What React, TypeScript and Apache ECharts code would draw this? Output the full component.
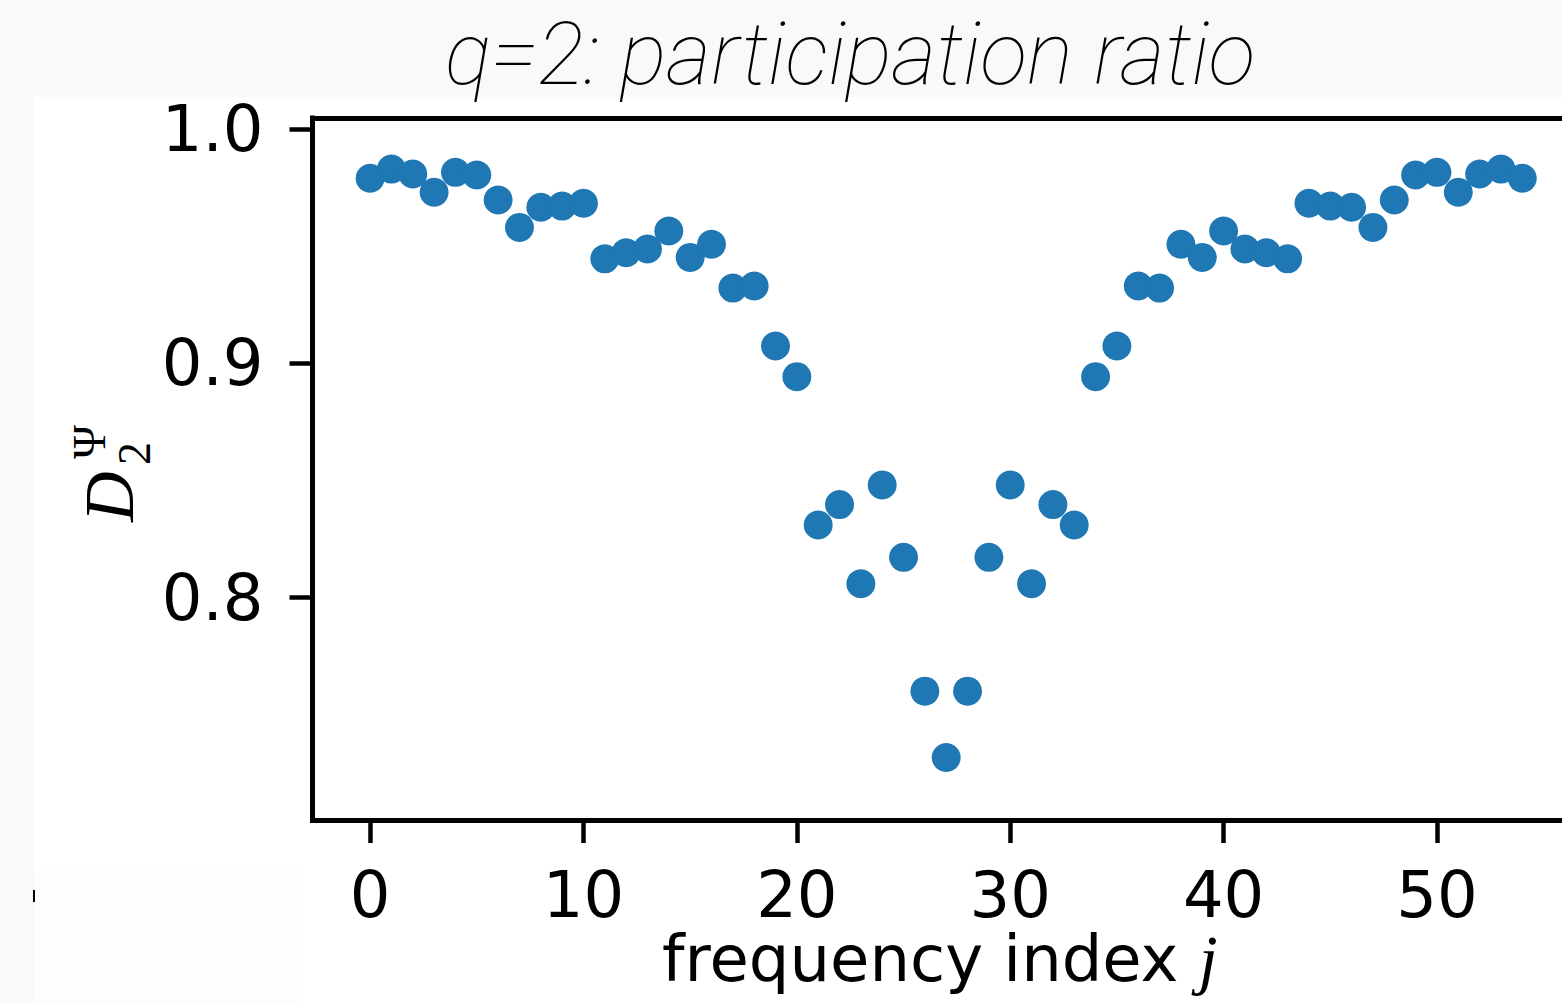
import React, { useEffect, useRef } from "react";
import * as echarts from "echarts";

const frequencyIndex = [
  0, 1, 2, 3, 4, 5, 6, 7, 8, 9, 10, 11, 12, 13, 14, 15, 16, 17, 18, 19, 20, 21, 22, 23, 24, 25, 26, 27,
  28, 29, 30, 31, 32, 33, 34, 35, 36, 37, 38, 39, 40, 41, 42, 43, 44, 45, 46, 47, 48, 49, 50, 51, 52, 53, 54,
];
const d2Values = [
  0.979, 0.9829, 0.9808, 0.973, 0.9815, 0.9804, 0.9697, 0.958, 0.9666, 0.9671, 0.9683, 0.9446, 0.9472,
  0.9488, 0.9565, 0.9452, 0.9508, 0.9321, 0.933, 0.9074, 0.8943, 0.831, 0.8397, 0.8059, 0.8481, 0.8172,
  0.7601, 0.7318, 0.7601, 0.8172, 0.8481, 0.8059, 0.8397, 0.831, 0.8943, 0.9074, 0.933, 0.9321, 0.9508,
  0.9452, 0.9565, 0.9488, 0.9472, 0.9446, 0.9683, 0.9671, 0.9666, 0.958, 0.9697, 0.9804, 0.9815, 0.973,
  0.9808, 0.9829, 0.979,
];
const xTicks = [0, 10, 20, 30, 40, 50];
const yTicks = [0.8, 0.9, 1.0];
const titleText = "q=2: participation ratio";
const xLabelText = "frequency index ";
const xLabelVar = "j";
const yLabelMain = "D";
const yLabelSub = "2";
const yLabelSup = "\u03A8";

export default function App() {
  const ref = useRef<HTMLDivElement>(null);
  useEffect(() => {
    if (!ref.current) return;
    const chart = echarts.init(ref.current, null, { renderer: "svg" });
    const points = frequencyIndex.map((x, i) => [x, d2Values[i]]);
    const spine = { show: true, onZero: false, lineStyle: { color: "#000", width: 5, cap: "square" } };
    chart.setOption({
      animation: false,
      backgroundColor: "transparent",
      grid: { left: 312.5, right: 0, top: 118, bottom: 183, containLabel: false },
      xAxis: [
        {
          type: "value",
          position: "bottom",
          min: -2.7,
          max: 55.86,
          axisLine: spine,
          axisTick: { show: true, length: 23, customValues: xTicks, lineStyle: { color: "#000", width: 4.5 } },
          axisLabel: {
            show: true,
            customValues: xTicks,
            color: "#000",
            fontFamily: "DejaVu Sans",
            fontSize: 64,
            lineHeight: 56,
            margin: 47,
            formatter: (v: number) => String(v),
          },
          splitLine: { show: false },
        },
        {
          type: "value",
          position: "top",
          min: -2.7,
          max: 55.86,
          axisLine: spine,
          axisTick: { show: false },
          axisLabel: { show: false },
          splitLine: { show: false },
        },
      ],
      yAxis: {
        type: "value",
        min: 0.7051,
        max: 1.0047,
        axisLine: spine,
        axisTick: { show: true, length: 23, customValues: yTicks, lineStyle: { color: "#000", width: 4.5 } },
        axisLabel: {
          show: true,
          customValues: yTicks,
          color: "#000",
          fontFamily: "DejaVu Sans",
          fontSize: 64,
          margin: 49,
          formatter: (v: number) => v.toFixed(1),
        },
        splitLine: { show: false },
      },
      series: [
        {
          type: "scatter",
          data: points,
          symbol: "circle",
          symbolSize: 29,
          itemStyle: { color: "#1f77b4", opacity: 1 },
          xAxisIndex: 0,
          yAxisIndex: 0,
        },
      ],
      graphic: [
        {
          type: "text",
          x: 850,
          y: 54,
          style: {
            text: titleText,
            fontFamily: "Roboto",
            fontWeight: 100,
            fontStyle: "italic",
            fontSize: 87,
            lineHeight: 80,
            fill: "#000",
            textAlign: "center",
            textVerticalAlign: "middle",
          },
        },
        {
          type: "text",
          x: 662,
          y: 959,
          style: {
            text: "{a|" + xLabelText + "}{b|" + xLabelVar + "}",
            textAlign: "left",
            textVerticalAlign: "middle",
            rich: {
              a: { fontFamily: "DejaVu Sans", fontSize: 64, lineHeight: 60, fill: "#000", color: "#000" },
              b: {
                fontFamily: "Liberation Serif",
                fontStyle: "italic",
                fontSize: 68,
                lineHeight: 60,
                fill: "#000",
                color: "#000",
              },
            },
          },
        },
        {
          type: "group",
          x: 133,
          y: 522,
          rotation: Math.PI / 2,
          children: [
            {
              type: "text",
              x: 0,
              y: -23.6,
              style: {
                text: yLabelMain,
                fontFamily: "Liberation Serif",
                fontStyle: "italic",
                fontSize: 70,
                fill: "#000",
                textAlign: "left",
                textVerticalAlign: "middle",
              },
            },
            {
              type: "text",
              x: 57,
              y: 1.5,
              style: {
                text: yLabelSub,
                fontFamily: "Liberation Serif",
                fontSize: 46,
                fill: "#000",
                textAlign: "left",
                textVerticalAlign: "middle",
              },
            },
            {
              type: "text",
              x: 63,
              y: -43.5,
              style: {
                text: yLabelSup,
                fontFamily: "Liberation Serif",
                fontSize: 46,
                fill: "#000",
                textAlign: "left",
                textVerticalAlign: "middle",
              },
            },
          ],
        },
      ],
    });
    return () => chart.dispose();
  }, []);

  return (
    <div
      style={{
        position: "fixed",
        left: 0,
        top: 0,
        width: 1562,
        height: 1003,
        background: "#f9f9f9",
        overflow: "hidden",
      }}
    >
      <div style={{ position: "absolute", left: 34, top: 97, width: 1528, height: 906, background: "#ffffff" }} />
      <div style={{ position: "absolute", left: 34, top: 870, width: 269, height: 133, background: "#fdfdfd" }} />
      <div style={{ position: "absolute", left: 33, top: 890, width: 1.5, height: 12, background: "#000" }} />
      <div ref={ref} style={{ position: "absolute", left: 0, top: 0, width: 1562, height: 1003 }} />
    </div>
  );
}
